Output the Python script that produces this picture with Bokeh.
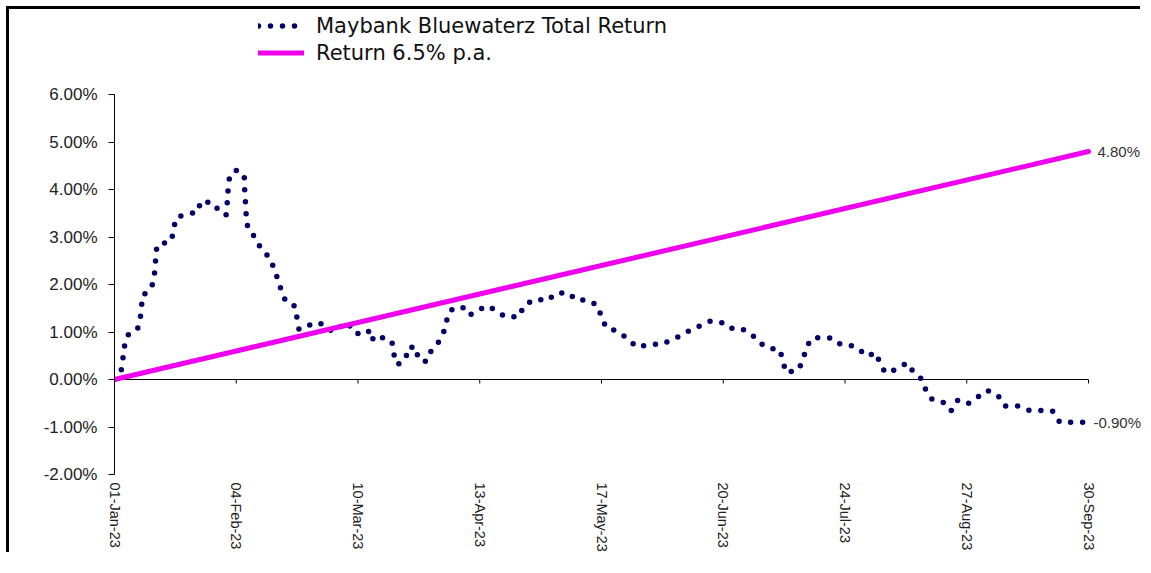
import pandas as pd
from bokeh.plotting import figure
from bokeh.models import (Range1d, FixedTicker, PrintfTickFormatter, LinearAxis,
                          Legend, LegendItem, Label)
from bokeh.embed import file_html
from bokeh.resources import INLINE

# ---------------- data ----------------
start_date = "01-Jan-23"
tick_labels = ["01-Jan-23", "04-Feb-23", "10-Mar-23", "13-Apr-23", "17-May-23",
               "20-Jun-23", "24-Jul-23", "27-Aug-23", "30-Sep-23"]
y_ticks = [-2, -1, 0, 1, 2, 3, 4, 5, 6]

fund_name = "Maybank Bluewaterz Total Return"
bench_name = "Return 6.5% p.a."

# days since 01-Jan-23
fund_days = [0, 1.87, 2.35, 2.71, 3.63, 6.42, 7.18, 7.54, 7.82, 9.97,
             11.01, 11.28, 11.56, 11.84, 14.64, 15.92, 16.48, 17.23, 19.94, 23.18,
             24.13, 27.77, 29.53, 31.2, 31.48, 31.68, 31.96, 33.72, 36.23, 36.31,
             36.51, 36.7, 36.87, 37.54, 39.39, 40.7, 42.46, 43.85, 44.61, 46.01,
             46.65, 48.16, 50.28, 50.95, 51.51, 52.99, 55.7, 58.58, 60.73, 65.08,
             66.96, 70.31, 71.42, 72.35, 75.14, 77.49, 77.93, 79.05, 81.28, 82.04,
             84.27, 84.75, 87.07, 88.46, 90.42, 91.9, 92.65, 93.77, 97.12, 99.08,
             101.23, 104.19, 107.18, 109.05, 112.96, 114.36, 117.43, 121.06, 123.02, 126.54,
             129.25, 131.76, 134.75, 136.03, 137.26, 140.7, 143.41, 145.92, 149.55, 152.99,
             155.78, 158.21, 160.81, 163.8, 166.4, 169.47, 171.42, 174.97, 178.13, 180.0,
             182.51, 185.75, 186.7, 187.43, 190.78, 192.37, 193.02, 194.8, 197.88, 200.47,
             202.9, 206.06, 207.93, 209.89, 212.77, 213.8, 215.36, 218.55, 221.34, 223.18,
             225.53, 226.65, 228.32, 231.68, 233.63, 235.39, 238.18, 240.89, 243.69, 246.76,
             248.6, 252.23, 255.42, 258.58, 261.93, 263.97, 267.88, 272]
# total return, %
fund_returns = [0, 0.19, 0.44, 0.68, 0.93, 1.06, 1.27, 1.53, 1.77, 1.89,
                2.08, 2.33, 2.58, 2.83, 2.89, 2.92, 3.17, 3.41, 3.48, 3.52,
                3.76, 3.71, 3.50, 3.47, 3.72, 3.96, 4.21, 4.41, 4.31, 4.06,
                3.81, 3.56, 3.31, 3.13, 2.99, 2.78, 2.63, 2.50, 2.28, 2.06,
                1.81, 1.62, 1.55, 1.30, 1.06, 1.08, 1.20, 1.16, 1.01, 1.20,
                0.98, 0.95, 1.05, 0.81, 0.89, 0.79, 0.55, 0.31, 0.43, 0.68,
                0.68, 0.43, 0.38, 0.61, 0.78, 0.99, 1.22, 1.46, 1.53, 1.35,
                1.45, 1.55, 1.42, 1.32, 1.32, 1.56, 1.69, 1.66, 1.81, 1.83,
                1.66, 1.68, 1.57, 1.32, 1.09, 1.01, 0.85, 0.68, 0.74, 0.74,
                0.85, 0.92, 1.04, 1.14, 1.23, 1.20, 1.08, 1.08, 0.94, 0.78,
                0.66, 0.63, 0.39, 0.15, 0.19, 0.41, 0.66, 0.87, 0.89, 0.87,
                0.73, 0.71, 0.64, 0.49, 0.56, 0.32, 0.14, 0.22, 0.35, 0.15,
                0.0, -0.24, -0.42, -0.49, -0.66, -0.44, -0.52, -0.38, -0.23, -0.34,
                -0.56, -0.56, -0.65, -0.65, -0.66, -0.90, -0.90, -0.90]

bench_days = [0, 272]
bench_returns = [0.0, 4.80]

# ---------------- layout (pixels) ----------------
W, H = 1134, 546            # canvas size
LEFT, BOTTOM = 105, 81      # space for the y axis and the date labels
PLOT_H = 380                # height of the -2%..6% band
PLOT_W = 974                # width of the 01-Jan..30-Sep band

t0 = pd.to_datetime(start_date, format="%d-%b-%y")
tick_pos = [int((pd.to_datetime(s, format="%d-%b-%y") - t0).days) for s in tick_labels]

y0, y1 = y_ticks[0], y_ticks[-1]
x0, x1 = tick_pos[0], tick_pos[-1]
y_per_px = (y1 - y0) / PLOT_H
x_per_px = (x1 - x0) / PLOT_W
frame_h = H - BOTTOM
frame_w = W - LEFT

p = figure(width=W, height=H, output_backend="svg", toolbar_location=None,
           x_range=Range1d(x0, x0 + frame_w * x_per_px),
           y_range=Range1d(y0, y0 + frame_h * y_per_px),
           x_axis_location=None, y_axis_location="left",
           min_border_left=LEFT, min_border_right=0, min_border_top=0, min_border_bottom=BOTTOM)
# chart-area frame: left and top edges only (shadow does not change the layout)
p.styles = {"margin-left": "9px", "margin-top": "9px",
            "box-shadow": "-3px -3px 0 0 #000"}
p.outline_line_color = None
p.xgrid.visible = False
p.ygrid.visible = False
p.background_fill_color = "white"
p.border_fill_color = "white"

# y axis
ya = p.yaxis[0]
ya.bounds = (y0, y1)
ya.ticker = FixedTicker(ticks=y_ticks)
ya.formatter = PrintfTickFormatter(format="%.2f%%")
ya.major_tick_out = 6
ya.major_tick_in = 0
ya.minor_tick_out = 0
ya.minor_tick_in = 0
ya.axis_line_color = "black"
ya.major_tick_line_color = "black"
ya.major_label_text_font = "Liberation Sans"
ya.major_label_text_font_size = "17px"
ya.major_label_text_color = "#222222"
ya.major_label_standoff = 11

# date labels at the bottom
lab_axis = LinearAxis(ticker=FixedTicker(ticks=tick_pos),
                      major_label_overrides={pos: lbl for pos, lbl in zip(tick_pos, tick_labels)},
                      major_label_orientation="vertical",
                      axis_line_color=None, major_tick_line_color=None,
                      major_tick_out=0, major_tick_in=0, minor_tick_out=0, minor_tick_in=0,
                      major_label_standoff=8,
                      major_label_text_font="Liberation Sans",
                      major_label_text_font_size="14.5px",
                      major_label_text_color="#222222")
p.add_layout(lab_axis, "below")

# category axis line at 0% with outward ticks
p.line([x0, x1], [0, 0], line_color="black", line_width=1)
p.ray(x=tick_pos, y=[0] * len(tick_pos), length=4, length_units="screen",
      angle=-90, angle_units="deg", line_color="black", line_width=1)

r1 = p.line(fund_days, fund_returns, line_color="#000066", line_width=5.5,
            line_dash="0 12", line_cap="round", line_join="round")
r2 = p.line(bench_days, bench_returns, line_color="#EE00EE", line_width=5, line_cap="round")

legend = Legend(items=[LegendItem(label=fund_name, renderers=[r1]),
                       LegendItem(label=bench_name, renderers=[r2])],
                location=(144, 409), padding=0, margin=0, spacing=2,
                glyph_width=46, glyph_height=25, label_height=25, label_standoff=12,
                label_text_font="DejaVu Sans", label_text_font_size="21px",
                label_text_color="#111111", border_line_color=None,
                background_fill_alpha=0)
p.add_layout(legend)

for xs, ys, off in [(bench_days, bench_returns, 9), (fund_days, fund_returns, 5)]:
    p.add_layout(Label(x=xs[-1], y=ys[-1], text=f"{ys[-1]:.2f}%", x_offset=off,
                       text_baseline="middle", text_font="Liberation Sans",
                       text_font_size="15px", text_color="#333333"))

open("out.html", "w").write(file_html(p, INLINE))
